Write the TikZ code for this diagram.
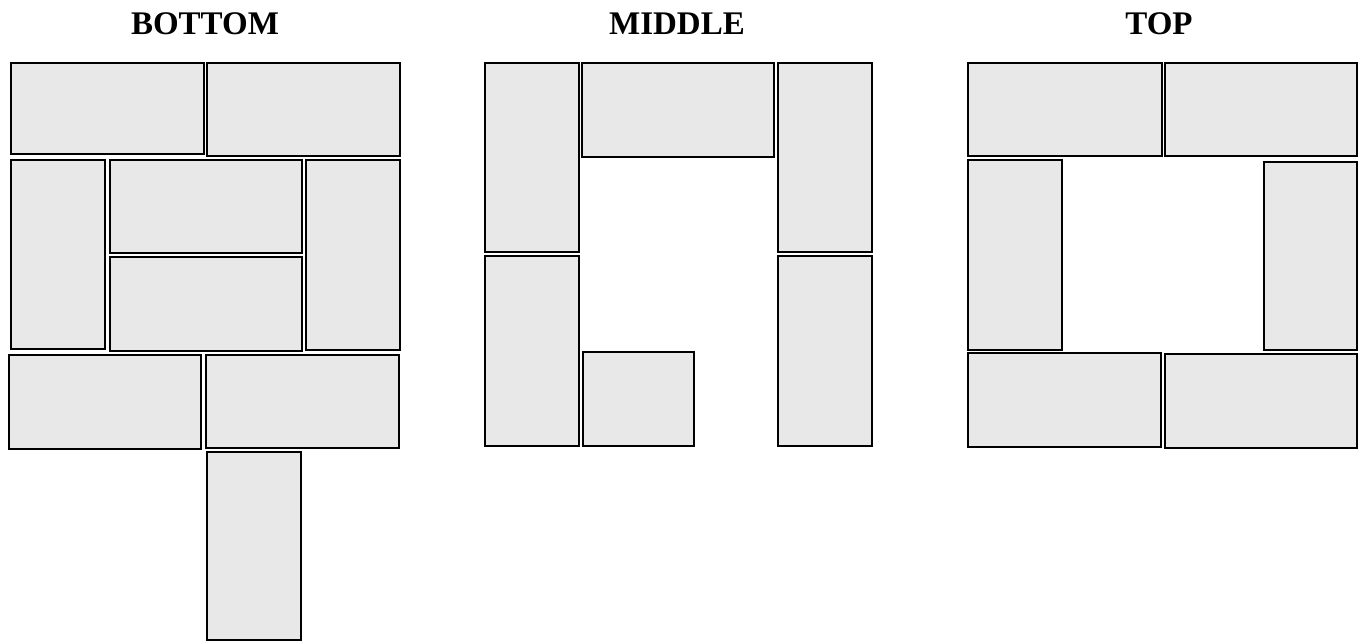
\documentclass[tikz,border=0pt]{standalone}
\usepackage{fontspec}
\setmainfont{Liberation Serif}
\usepackage{xcolor}
\usepackage{tikz}
\definecolor{brickgray}{RGB}{232,232,232}

\begin{document}
\begin{tikzpicture}[x=1pt, y=-1pt,
  brick/.style={draw=black, fill=brickgray, line width=2pt},
  every node/.style={font=\fontsize{33}{38}\selectfont\bfseries, anchor=base}]
\useasboundingbox (0,0) rectangle (1359,642);

% bottom layer
\node (tbottom) at (205,35) {BOTTOM};
\foreach \xa/\ya/\xb/\yb in {11/63/204/154, 207/63/400/156, 11/160/105/349, 110/160/302/253,
  110/257/302/351, 306/160/400/350, 9/355/201/449, 206/355/399/448, 207/452/301/640} {
  \draw[brick] (\xa,\ya) rectangle (\xb,\yb);
}

% middle layer
\node (tmiddle) at (677,35) {MIDDLE};
\foreach \xa/\ya/\xb/\yb in {485/63/579/252, 582/63/774/157, 778/63/872/252,
  485/256/579/446, 583/352/694/446, 778/256/872/446} {
  \draw[brick] (\xa,\ya) rectangle (\xb,\yb);
}

% top layer
\node (ttop) at (1159,35) {TOP};
\foreach \xa/\ya/\xb/\yb in {968/63/1162/156, 1165/63/1357/156, 968/160/1062/350,
  1264/162/1357/350, 968/353/1161/447, 1165/354/1357/448} {
  \draw[brick] (\xa,\ya) rectangle (\xb,\yb);
}
\end{tikzpicture}
\end{document}
